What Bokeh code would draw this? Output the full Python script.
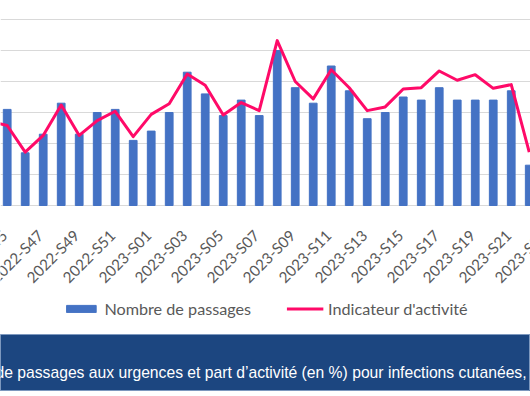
import math
from bokeh.plotting import figure
from bokeh.models import (ColumnDataSource, Range1d, FixedTicker, Grid, Legend,
                          LegendItem, LabelSet)
from bokeh.layouts import column
from bokeh.embed import file_html
from bokeh.resources import INLINE
from bokeh.core.properties import value

# ---- data -------------------------------------------------------------
weeks = ["2022-S44", "2022-S45", "2022-S46", "2022-S47", "2022-S48", "2022-S49",
         "2022-S50", "2022-S51", "2022-S52",
         "2023-S01", "2023-S02", "2023-S03", "2023-S04", "2023-S05", "2023-S06",
         "2023-S07", "2023-S08", "2023-S09", "2023-S10", "2023-S11", "2023-S12",
         "2023-S13", "2023-S14", "2023-S15", "2023-S16", "2023-S17", "2023-S18",
         "2023-S19", "2023-S20", "2023-S21", "2023-S22"]
# Nombre de passages (S44 bar lies outside the visible crop)
passages = [float("nan"), 62, 34, 46, 66, 46, 60, 62, 42, 48, 60, 86, 72, 58, 68, 58,
            100, 76, 66, 90, 74, 56, 60, 70, 68, 76, 68, 68, 68, 74, 26]
# Indicateur d'activité (%)
indicateur = [1.36, 1.29, 0.86, 1.13, 1.62, 1.13, 1.37, 1.52, 1.11, 1.47, 1.64, 2.12,
              1.94, 1.46, 1.66, 1.53, 2.66, 2.00, 1.72, 2.19, 1.90, 1.53, 1.59, 1.88,
              1.90, 2.17, 2.02, 2.11, 1.89, 1.95, 0.86]
# week tick labels, one every two weeks (last one is cut by the crop)
tick_weeks = weeks[1::2] + ["2023-S23"]
grid_values = [0, 20, 40, 60, 80, 100, 120]
legend_labels = ["Nombre de passages", "Indicateur d'activit\u00e9"]
title_text = "de passages aux urgences et part d\u2019activit\u00e9 (en %) pour infections cutan\u00e9es,"

# ---- style ----------------------------------------------------------------
BAR = "#4472C4"
LINE = "#FF0A68"
GREY_TXT = "#595959"
BANNER = "#1C4680"
W = 530
PLOT_H = 205            # px from top to the zero line
MAIN_H = 295            # px of the chart block (plot + week labels)
Y_TOP = 132.26
PX_PER_UNIT = PLOT_H / Y_TOP
Y_BOT = -(MAIN_H - PLOT_H) / PX_PER_UNIT
LABEL_DROP = 27         # px below the zero line where tick labels are anchored

xs = [i - 1 for i in range(len(weeks))]
src = ColumnDataSource(dict(x=xs, passages=passages, indicateur=indicateur))

# ---- main chart -----------------------------------------------------------
p = figure(width=W, height=MAIN_H,
           x_range=Range1d(-0.372, 29.07), y_range=Range1d(Y_BOT, Y_TOP),
           output_backend="svg", toolbar_location=None,
           x_axis_location=None, y_axis_location=None, min_border=0,
           outline_line_color=None)
p.extra_y_ranges = {"pct": Range1d(Y_BOT / 40.0, Y_TOP / 40.0)}
p.xgrid.visible = False
p.ygrid.visible = False
p.add_layout(Grid(dimension=1, ticker=FixedTicker(ticks=grid_values),
                  grid_line_color="#D9D9D9", grid_line_width=1))

p.vbar(x="x", top="passages", width=0.43, source=src, color=BAR)
p.line(x="x", y="indicateur", source=src, y_range_name="pct",
       line_color=LINE, line_width=3, line_join="round")

tick_src = ColumnDataSource(dict(
    x=[2 * i for i in range(len(tick_weeks))],
    y=[-LABEL_DROP / PX_PER_UNIT] * len(tick_weeks),
    text=tick_weeks))
p.add_layout(LabelSet(x="x", y="y", text="text", source=tick_src, x_offset=-3,
                      angle=math.pi / 4, text_align="right", text_baseline="middle",
                      text_font=value("Lato"), text_font_size="15.2px",
                      text_color=GREY_TXT))

# ---- legend row -------------------------------------------------------------
lg = figure(width=W, height=39, x_range=Range1d(0, 1), y_range=Range1d(0, 1),
            output_backend="svg", toolbar_location=None,
            x_axis_location=None, y_axis_location=None, min_border=0,
            outline_line_color=None)
lg.xgrid.visible = False
lg.ygrid.visible = False
# legend-only renderers: their points sit outside this strip's ranges
offstage = ColumnDataSource(dict(x=[10, 11], top=[1, 1], y=[5, 5]))
r_bar = lg.vbar(x="x", top="top", width=0.1, source=offstage, color=BAR)
r_line = lg.line(x="x", y="y", source=offstage, line_color=LINE, line_width=3)
legend = Legend(items=[LegendItem(label=legend_labels[0], renderers=[r_bar]),
                       LegendItem(label=legend_labels[1], renderers=[r_line])],
                orientation="horizontal", location="top_center",
                glyph_width=37, glyph_height=9, label_height=18, label_standoff=5,
                spacing=35, label_text_font="Lato", label_text_font_size="16.2px",
                label_text_color=GREY_TXT, border_line_color=None,
                background_fill_alpha=0, padding=0, margin=4)
lg.add_layout(legend)

# ---- banner -----------------------------------------------------------------
b = figure(width=W, height=57, x_range=Range1d(0, W), y_range=Range1d(0, 57),
           output_backend="svg", toolbar_location=None,
           x_axis_location=None, y_axis_location=None, min_border=0,
           background_fill_color=BANNER, border_fill_color=BANNER,
           outline_line_color="#7D98BE", outline_line_width=1)
b.xgrid.visible = False
b.ygrid.visible = False
b.text(x=[-5], y=[19.3], text=[title_text], text_font=value("Liberation Sans"),
       text_font_size="15.7px", text_color="white", text_baseline="alphabetic",
       text_align="left")

layout = column(p, lg, b, spacing=0)
open("out.html", "w").write(file_html(layout, INLINE))
